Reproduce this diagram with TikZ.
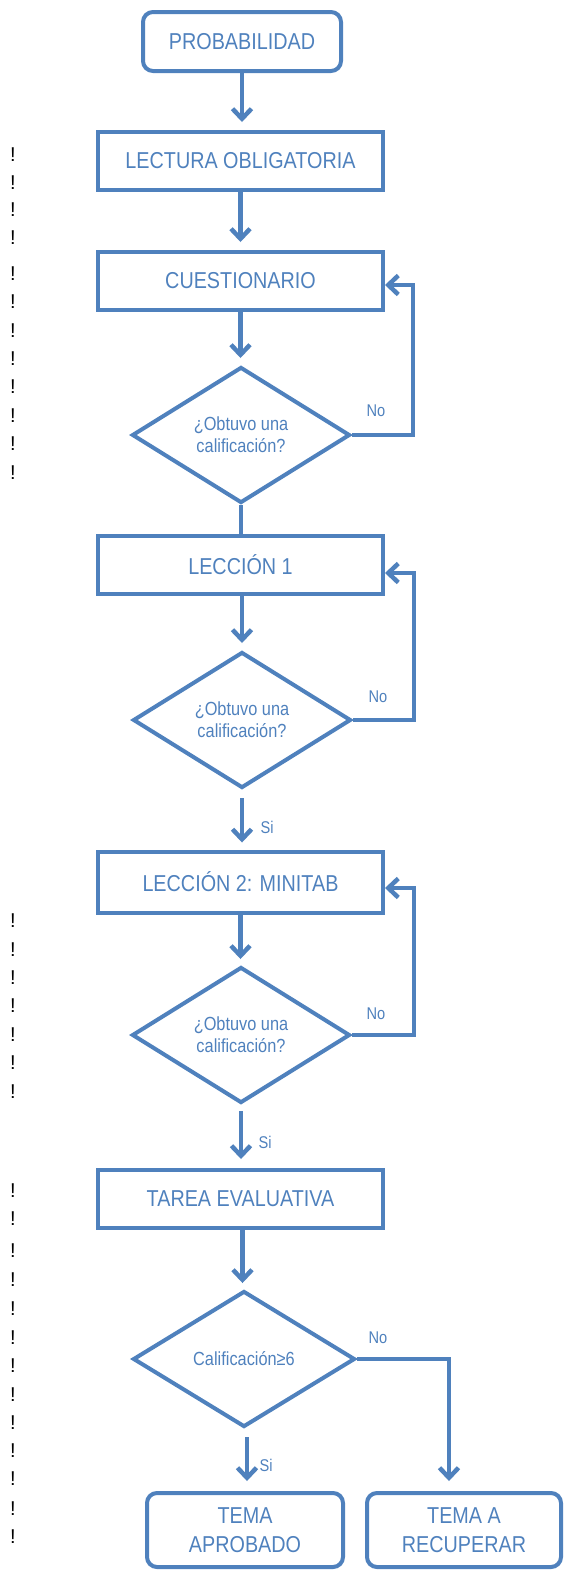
\documentclass[tikz,border=0pt]{standalone}
\usepackage{fontspec}
\setmainfont{Liberation Sans}[FakeStretch=0.86]
\newfontfamily\exfont{Liberation Sans}
\usetikzlibrary{shapes.geometric,arrows.meta}
\definecolor{fc}{HTML}{4F81BD}
\begin{document}
\begin{tikzpicture}[x=1pt,y=-1pt,
  box/.style={draw=fc, line width=4pt, text=fc, font=\fontsize{23}{29}\selectfont,
    minimum width=285pt, minimum height=58pt, inner sep=0pt, align=center},
  rbox/.style={box, rounded corners=10pt},
  dec/.style={diamond, aspect=1.6, draw=fc, line width=4pt, text=fc,
    font=\fontsize{19}{22}\selectfont, inner sep=0pt, align=center,
    minimum width=218pt, minimum height=136pt},
  lbl/.style={text=fc, font=\fontsize{17}{17}\selectfont, inner sep=0pt},
  ln/.style={draw=fc, line width=4.5pt},
  arr/.style={ln, -{Straight Barb[length=10pt,width=19pt]}},
  ex/.style={font=\exfont\fontsize{20}{20}\selectfont, inner sep=0pt}]
\useasboundingbox (0,0) rectangle (565,1572);

% nodes
\node[rbox, minimum width=198pt, minimum height=59pt] (p) at (242,41.5) {PROBABILIDAD};
\node[box] (l0) at (240.5,161) {LECTURA OBLIGATORIA};
\node[box] (c1) at (240.5,281) {CUESTIONARIO};
\node[dec] (d1) at (241,435) {¿Obtuvo una\\calificación?};
\node[box] (l1) at (240.5,565) {LECCIÓN 1};
\node[dec] (d2) at (242,720) {¿Obtuvo una\\calificación?};
\node[box, minimum height=61pt] (l2) at (240.5,882) {LECCIÓN 2: MINITAB};
\node[dec] (d3) at (241,1035) {¿Obtuvo una\\calificación?};
\node[box] (t) at (240.5,1199) {TAREA EVALUATIVA};
\node[dec, minimum width=222pt] (d4) at (244,1359) {Calificación≥6};
\node[rbox, minimum width=196pt, minimum height=74pt] (a) at (245,1530) {TEMA\\APROBADO};
\node[rbox, minimum width=194pt, minimum height=74pt] (r) at (464,1530) {TEMA A\\RECUPERAR};

% labels
\node[lbl] (n1) at (376,411) {No};
\node[lbl] (n2) at (378,697) {No};
\node[lbl] (n3) at (376,1014) {No};
\node[lbl] (n4) at (378,1338) {No};
\node[lbl] (s2) at (267,827) {Si};
\node[lbl] (s3) at (265,1142) {Si};
\node[lbl] (s4) at (266,1465) {Si};

% coordinates
\coordinate (k1) at (413,285);
\coordinate (k2) at (414,573);
\coordinate (k3) at (414,888);
\coordinate (k4) at (449,1359);

% main arrows
\draw[arr, shorten >=8pt] (p.south) -- (p.south |- l0.north);
\draw[arr, shorten >=8pt] (l0.south) -- (l0.south |- c1.north);
\draw[arr, shorten >=7pt] (c1.south) -- (c1.south |- d1.north);
\draw[ln] (d1.south) -- (d1.south |- l1.north);
\draw[arr, shorten >=7pt] ([xshift=1.5pt]l1.south) -- ([xshift=1.5pt]l1.south |- d2.north);
\draw[arr, shorten <=8pt, shorten >=7pt] (d2.south) -- (d2.south |- l2.north);
\draw[arr, shorten >=6pt] (l2.south) -- (l2.south |- d3.north);
\draw[arr, shorten <=6pt, shorten >=9pt] (d3.south) -- (d3.south |- t.north);
\draw[arr, shorten >=6pt] ([xshift=2pt]t.south) -- ([xshift=2pt]t.south |- d4.north);
\draw[arr, shorten <=8pt, shorten >=10pt] ([xshift=3pt]d4.south) -- ([xshift=3pt]d4.south |- a.north);

% feedback loops
\draw[arr] (d1.east) -| (k1) -- (k1 -| c1.east);
\draw[arr] (d2.east) -| (k2) -- (k2 -| l1.east);
\draw[arr] (d3.east) -| (k3) -- (k3 -| l2.east);
\draw[arr, shorten >=10pt] (d4.east) -- (k4) -- (k4 |- r.north);

% stray marks
\foreach \y [count=\i] in {155,183,210,238,274,302,331,359,387,416,444,473}
  \node[ex] (ea\i) at (13,\y) {!};
\foreach \y [count=\i] in {921,950,978,1006,1035,1063,1092}
  \node[ex] (eb\i) at (13,\y) {!};
\foreach \y [count=\i] in {1191,1219,1251,1280,1309,1338,1366,1395,1423,1451,1479,1509,1537}
  \node[ex] (ec\i) at (13,\y) {!};
\end{tikzpicture}
\end{document}
